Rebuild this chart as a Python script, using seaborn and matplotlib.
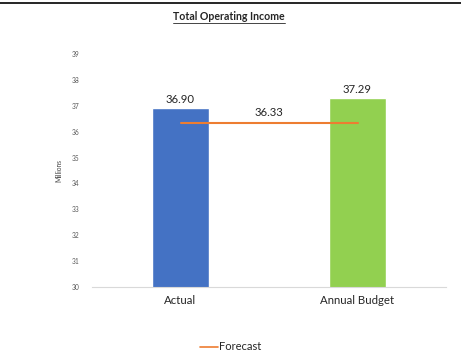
import matplotlib
matplotlib.use("Agg")
import matplotlib.pyplot as plt
from matplotlib.lines import Line2D
import seaborn as sns
import pandas as pd

categories = ["Actual", "Annual Budget"]
values = [36.90, 37.29]
forecast = 36.33
bar_colors = ["#4472C4", "#92D050"]
y_ticks = list(range(30, 40))

sns.set_theme(style="white")
plt.rcParams["font.family"] = ["Lato", "DejaVu Sans"]

df = pd.DataFrame({"category": categories, "value": values})

fig = plt.figure(figsize=(4.61, 3.54), dpi=100)
ax = fig.add_axes([92 / 461, 1 - 287 / 354, 354 / 461, 233 / 354])

sns.barplot(data=df, x="category", y="value", hue="category",
            palette=bar_colors, width=0.32, legend=False, ax=ax, saturation=1)

# forecast line across category centres
ax.plot([0, 1], [forecast, forecast], color="#ED7D31", lw=1.5, zorder=3)
ax.text(0.5, forecast + 0.2, f"{forecast:.2f}", ha="center", va="bottom",
        fontsize=8.2, color="#262626")

for i, v in enumerate(values):
    ax.text(i, v + 0.12, f"{v:.2f}", ha="center", va="bottom",
            fontsize=8.2, color="#262626")

ax.set_ylim(30, 39)
ax.set_xlim(-0.5, 1.5)
ax.set_yticks(y_ticks)
ax.tick_params(axis="y", length=0, labelsize=4.8, labelcolor="#595959", pad=9)
ax.tick_params(axis="x", length=0, labelsize=8.2, labelcolor="#262626", pad=6)
ax.set_xticks([-0.5, 0.5, 1.5], minor=True)
ax.tick_params(axis="x", which="minor", length=3, color="#D9D9D9", width=0.8)
ax.set_xlabel("")
ax.set_ylabel("Millions", fontsize=4.8, color="#404040", labelpad=7)

for s in ["top", "right", "left"]:
    ax.spines[s].set_visible(False)
ax.spines["bottom"].set_color("#D9D9D9")
ax.spines["bottom"].set_linewidth(0.8)

# title with underline
title = fig.text(229 / 461, 1 - 16 / 354, "Total Operating Income", ha="center",
                 va="center", fontsize=7.6, fontweight="bold", color="#262626")
fig.canvas.draw()
bb = title.get_window_extent().transformed(fig.transFigure.inverted())
uy = bb.y0 - 0.003
fig.add_artist(Line2D([bb.x0, bb.x1], [uy, uy], transform=fig.transFigure,
                      color="#262626", lw=0.6))

# top frame line
fig.add_artist(Line2D([0, 1], [1 - 3 / 354, 1 - 3 / 354], transform=fig.transFigure,
                      color="black", lw=1.2))

handle = Line2D([], [], color="#ED7D31", lw=1.2)
fig.legend([handle], ["Forecast"], loc="center", bbox_to_anchor=(231 / 461, 1 - 347 / 354),
           frameon=False, fontsize=8, handlelength=1.6, handletextpad=0.1,
           labelcolor="#262626")

fig.savefig("out.png", dpi=100)
